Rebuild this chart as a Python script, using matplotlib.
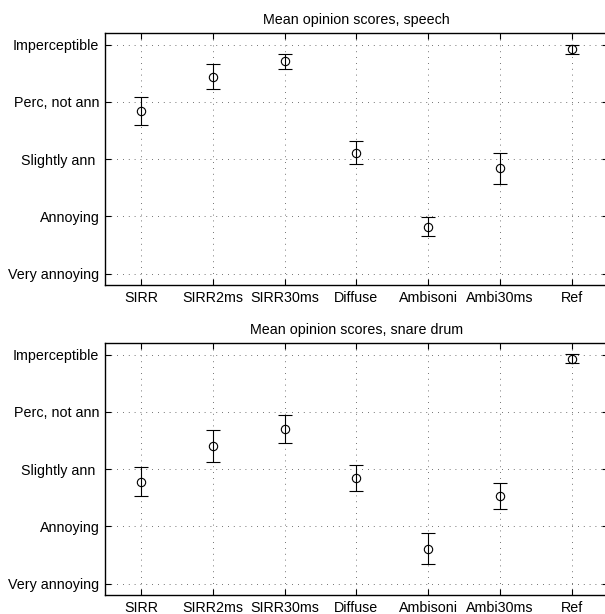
import matplotlib
matplotlib.use("Agg")
import matplotlib.pyplot as plt

plt.rcParams['font.family'] = ['Liberation Sans', 'DejaVu Sans']

conditions = ['SIRR', 'SIRR2ms', 'SIRR30ms', 'Diffuse', 'Ambisoni', 'Ambi30ms', 'Ref']
grades = ['Very annoying', 'Annoying', 'Slightly ann ', 'Perc, not ann', 'Imperceptible']

speech_mean = [3.84, 4.44, 4.71, 3.11, 1.82, 2.84, 4.92]
speech_ci = [0.25, 0.22, 0.13, 0.20, 0.17, 0.27, 0.08]

snare_mean = [2.78, 3.41, 3.70, 2.84, 1.61, 2.53, 4.93]
snare_ci = [0.25, 0.28, 0.24, 0.23, 0.27, 0.23, 0.08]

fig = plt.figure(figsize=(6.05, 6.14), dpi=100)
# right edge of the box sits just past the image border, like the original
ax1 = fig.add_axes([0.1736, 0.5358, 0.8307, 0.41])
ax2 = fig.add_axes([0.1736, 0.0309, 0.8307, 0.41])

x = list(range(1, len(conditions) + 1))


def mos_plot(ax, mean, ci, title):
    ax.errorbar(x, mean, yerr=ci, fmt='o', color='black', mfc='none',
                mec='black', ms=6, mew=0.8, elinewidth=0.8, capsize=5,
                capthick=0.8)
    ax.set_xlim(0.5, 7.5)
    ax.set_ylim(0.8, 5.2)
    ax.set_xticks(x)
    ax.set_xticklabels(conditions, fontsize=10.3)
    ax.set_yticks([1, 2, 3, 4, 5])
    ax.set_yticklabels(grades, fontsize=10.3)
    ax.grid(True, linestyle=(0, (1, 6)), color='#444444', linewidth=0.6)
    ax.tick_params(direction='in', top=True, right=True, length=4,
                   width=0.8, pad=4)
    for s in ax.spines.values():
        s.set_linewidth(1.0)
    ax.set_title(title, fontsize=10.3, pad=7)


mos_plot(ax1, speech_mean, speech_ci, 'Mean opinion scores, speech')
mos_plot(ax2, snare_mean, snare_ci, 'Mean opinion scores, snare drum')

fig.savefig('out.png', dpi=100)
